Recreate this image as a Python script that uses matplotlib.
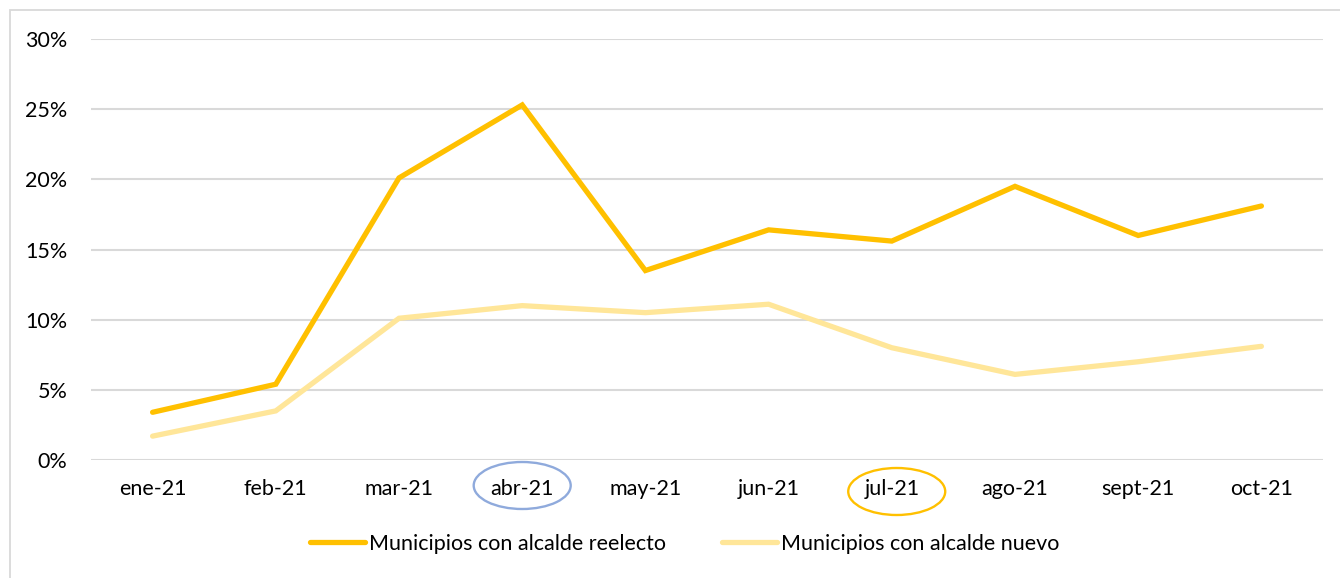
import matplotlib
matplotlib.use("Agg")
import matplotlib.pyplot as plt
import matplotlib.transforms as mtransforms
from matplotlib.patches import Ellipse, Rectangle
from matplotlib.ticker import PercentFormatter

months = ['ene-21', 'feb-21', 'mar-21', 'abr-21', 'may-21',
          'jun-21', 'jul-21', 'ago-21', 'sept-21', 'oct-21']
reelecto = [3.4, 5.4, 20.1, 25.3, 13.5, 16.4, 15.6, 19.5, 16.0, 18.1]
nuevo = [1.7, 3.5, 10.1, 11.0, 10.5, 11.1, 8.0, 6.1, 7.0, 8.1]
yticks = [0, 5, 10, 15, 20, 25, 30]

# months that are circled under the axis, with circle colour
circled = {'abr-21': '#8FAADC', 'jul-21': '#FFC000'}

plt.rcParams['font.family'] = ['Lato', 'DejaVu Sans']
plt.rcParams['font.size'] = 15.5

fig = plt.figure(figsize=(13.4, 5.78), dpi=100)
ax = fig.add_axes([91 / 1340, 1 - 460 / 578, 1232 / 1340, 421 / 578])

x = list(range(len(months)))
ax.plot(x, reelecto, color='#FFC000', lw=3.8, solid_capstyle='round',
        solid_joinstyle='miter', label='Municipios con alcalde reelecto', zorder=3)
ax.plot(x, nuevo, color='#FFE699', lw=3.8, solid_capstyle='round',
        solid_joinstyle='miter', label='Municipios con alcalde nuevo', zorder=2)

ax.set_xlim(-0.5, len(months) - 0.5)
ax.set_ylim(0, 30)
ax.set_yticks(yticks)
ax.yaxis.set_major_formatter(PercentFormatter(decimals=0))
ax.set_xticks(x)
ax.set_xticklabels(months)
ax.tick_params(axis='both', length=0, colors='#000000')
ax.tick_params(axis='y', pad=17)
ax.tick_params(axis='x', pad=14)
ax.grid(axis='y', color='#D9D9D9', lw=1.5)
ax.set_axisbelow(True)
for s in ax.spines.values():
    s.set_visible(False)

# ovals round a couple of month labels
trans = mtransforms.blended_transform_factory(ax.transData, fig.transFigure)
for m, c in circled.items():
    i = months.index(m)
    yc = 1 - (485.5 if m == 'abr-21' else 491.5) / 578
    e = Ellipse((i + (0.0 if m == 'abr-21' else 0.04), yc), 97 / 123.2, 47 / 578,
                transform=trans, fill=False, edgecolor=c, lw=1.7, clip_on=False)
    fig.add_artist(e)

leg = fig.legend(loc='center', bbox_to_anchor=(0.511, 1 - 544 / 578), ncol=2,
                 frameon=False, handlelength=2.55, handletextpad=0.2,
                 columnspacing=2.6, fontsize=15.5)

# light frame around the chart
fig.add_artist(Rectangle((10 / 1340, -0.01), 1.1, 1 - 10 / 578 + 0.01,
                         transform=fig.transFigure, fill=False,
                         edgecolor='#D9D9D9', lw=1.3))

fig.savefig('out.png', dpi=100, facecolor='white')
